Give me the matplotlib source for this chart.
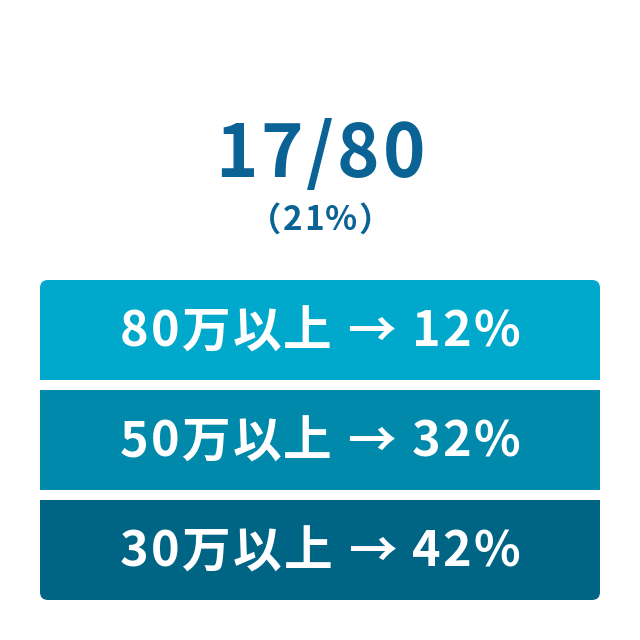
import matplotlib
matplotlib.use("Agg")
import matplotlib.pyplot as plt
from matplotlib.patches import FancyBboxPatch, Rectangle

plt.rcParams['font.family'] = ['Noto Sans CJK JP', 'DejaVu Sans']

count = 17
total = 80
share_pct = 21
categories = ["80万以上", "50万以上", "30万以上"]
values = [12, 32, 42]
box_colors = ["#00a8cb", "#0089aa", "#006485"]
title_color = "#0b6294"

fig = plt.figure(figsize=(6.4, 6.4), dpi=100)
ax = fig.add_axes([0, 0, 1, 1])
ax.set_xlim(0, 640)
ax.set_ylim(640, 0)
ax.axis('off')


def spaced_text(x, y, s, tracking, **kw):
    """Draw text centred at x with extra spacing (in data px) between characters."""
    fig.canvas.draw()
    renderer = fig.canvas.get_renderer()
    widths = []
    for ch in s:
        t = ax.text(0, 0, ch if ch != ' ' else '\u00a0', **kw)
        bb = t.get_window_extent(renderer)
        widths.append(bb.width)
        t.remove()
    total_w = sum(widths) + tracking * (len(s) - 1)
    cx = x - total_w / 2
    for ch, w in zip(s, widths):
        if ch != ' ':
            ax.text(cx, y, ch, ha='left', va='center', **kw)
        cx += w + tracking


spaced_text(320, 156, f"{count}/{total}", 3, fontsize=52,
            fontweight='bold', color=title_color)
spaced_text(320, 221, f"（{share_pct}%）", 1.5, fontsize=24,
            fontweight='bold', color=title_color)

x0, x1 = 40, 600
top0, h, step, r = 280, 100, 110, 8
n = len(categories)
for i, (cat, val, col) in enumerate(zip(categories, values, box_colors)):
    top = top0 + i * step
    if i == 0 or i == n - 1:
        ax.add_patch(FancyBboxPatch((x0 + r, top + r), (x1 - x0) - 2 * r, h - 2 * r,
                                    boxstyle=f"round,pad={r}", fc=col, ec='none'))
        if i == 0:
            ax.add_patch(Rectangle((x0, top + h / 2), x1 - x0, h / 2, fc=col, ec='none'))
        else:
            ax.add_patch(Rectangle((x0, top), x1 - x0, h / 2, fc=col, ec='none'))
    else:
        ax.add_patch(Rectangle((x0, top), x1 - x0, h, fc=col, ec='none'))
    spaced_text(320, top + h / 2 + 2, f"{cat} → {val}%", 2.3, fontsize=35,
                fontweight='bold', color='white')

fig.savefig("out.png", dpi=100, facecolor='white')
